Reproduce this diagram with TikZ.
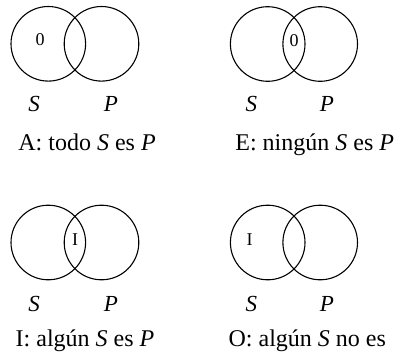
\documentclass[tikz,border=0pt]{standalone}
\usepackage{fontspec}
\setmainfont{Liberation Serif}
\begin{document}
\begin{tikzpicture}[x=1pt,y=-1pt,
  venn/.style={draw,circle,line width=1.1pt,minimum size=74.6pt,inner sep=0pt},
  regionlbl/.style={anchor=base,font=\fontsize{18}{21}\selectfont},
  setlbl/.style={anchor=base,font=\fontsize{23}{27}\selectfont\itshape},
  captionlbl/.style={anchor=base,font=\fontsize{24}{28}\selectfont}]
\useasboundingbox (0,0) rectangle (398,359);
% A
\node[venn] (aS) at (48.3,43.8) {};
\node[venn] (aP) at (101.5,43.8) {};
\node[regionlbl] (a0) at (40,45.7) {0};
\node[setlbl] (aSl) at (34,111) {S};
\node[setlbl] (aPl) at (111,111) {P};
\node[captionlbl] (acap) at (87,150) {A: todo \textit{S} es \textit{P}};
% E
\node[venn] (eS) at (267.7,44) {};
\node[venn] (eP) at (320.2,44) {};
\node[regionlbl] (e0) at (294,46.7) {0};
\node[setlbl] (eSl) at (251.3,111) {S};
\node[setlbl] (ePl) at (327,111) {P};
\node[captionlbl] (ecap) at (314.7,150) {E: ningún \textit{S} es \textit{P}};
% I
\node[venn] (iS) at (48.3,242.5) {};
\node[venn] (iP) at (101.5,242.5) {};
\node[regionlbl] (i0) at (75,245) {I};
\node[setlbl] (iSl) at (34,311) {S};
\node[setlbl] (iPl) at (111,311) {P};
\node[captionlbl] (icap) at (85,346.7) {I: algún \textit{S} es \textit{P}};
% O
\node[venn] (oS) at (267.7,242.5) {};
\node[venn] (oP) at (320.2,242.5) {};
\node[regionlbl] (o0) at (249.7,245) {I};
\node[setlbl] (oSl) at (251.3,311) {S};
\node[setlbl] (oPl) at (327,311) {P};
\node[captionlbl] (ocap) at (307.3,346.7) {O: algún \textit{S} no es};
\end{tikzpicture}
\end{document}
